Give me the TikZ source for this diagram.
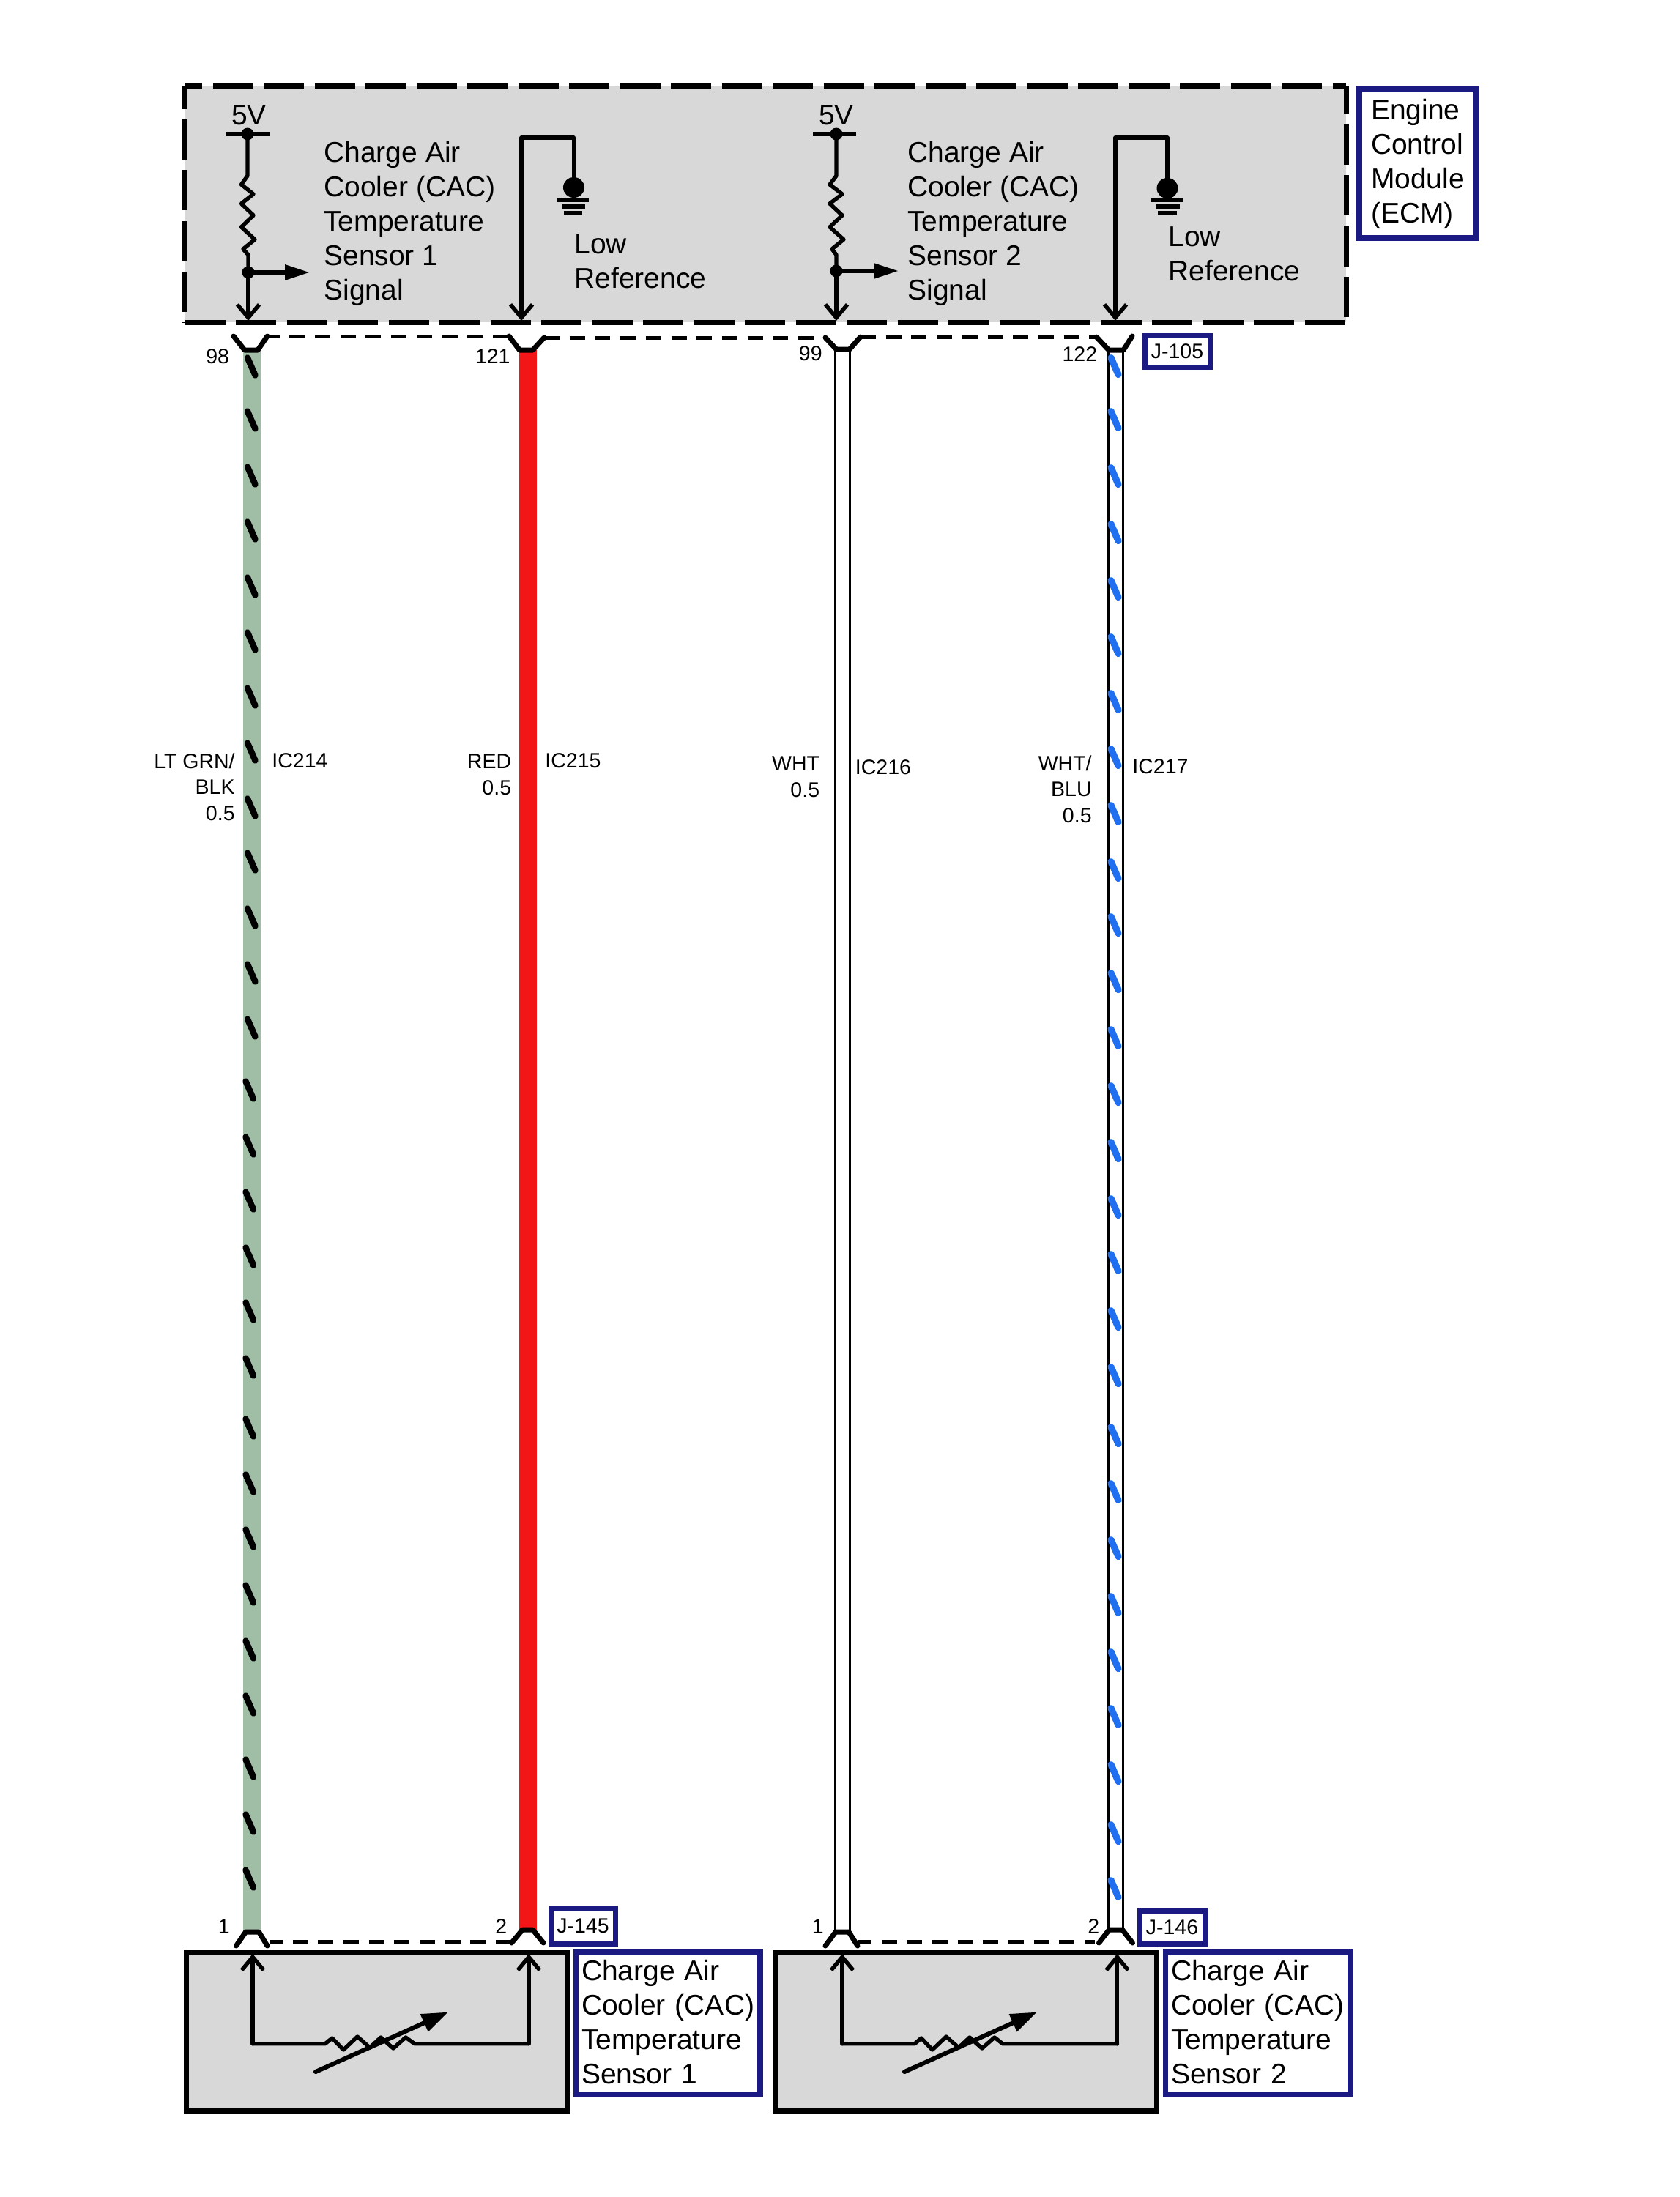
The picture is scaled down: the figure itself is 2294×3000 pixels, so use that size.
\documentclass[tikz,border=0pt]{standalone}
\usepackage{fontspec}
\setmainfont{Liberation Sans}
\usetikzlibrary{arrows.meta,shapes.geometric}
\definecolor{boxgray}{HTML}{D8D8D8}
\definecolor{wiregreen}{HTML}{A0BEA6}
\definecolor{wirered}{HTML}{F21616}
\definecolor{navy}{HTML}{1A1A82}
\definecolor{stripeblue}{HTML}{1F6FF0}
\tikzset{
  bigtxt/.style={font=\fontsize{19.5}{23.5}\selectfont,inner sep=0pt,align=left,anchor=base west},
  smalltxt/.style={font=\fontsize{14.25}{17.75}\selectfont,inner sep=0pt},
  signal/.style={line width=2.7pt,line join=round,line cap=round},
  barb/.style={signal,-{Straight Barb[length=9pt,width=15pt,line width=2.7pt]}},
  solidtip/.style={line width=3pt,-{Triangle[length=17pt,width=10pt]}},
  dirtip/.style={line width=3pt,line cap=round,-{Triangle[length=18pt,width=12.5pt]}},
  dot/.style={circle,fill=black,inner sep=0pt,minimum size=8.5pt},
  gnddot/.style={ellipse,fill=black,inner sep=0pt},
  gnd/.style={line width=2.7pt},
  pin/.style={line width=3.5pt,line join=round,line cap=round},
  shielddash/.style={line width=2.5pt,dash pattern=on 10.5pt off 6.85pt},
  ecmedge/.style={line width=3.6pt},
  sensorbox/.style={draw=black,fill=boxgray,line width=3.6pt,minimum width=260.5pt,minimum height=108.25pt,inner sep=0pt},
  namebox/.style={draw=navy,fill=white,line width=3.7pt,inner ysep=0pt,align=left,font=\fontsize{19.5}{23.5}\selectfont},
  jbox/.style={draw=navy,fill=white,line width=3.5pt,inner sep=0pt,font=\fontsize{14.25}{17.75}\selectfont},
  greenwire/.style={line width=12pt,wiregreen},
  redwire/.style={line width=12pt,wirered},
  whitewire/.style={line width=1.65pt,black,double=white,double distance=8.2pt},
  blackstripe/.style={line width=4.2pt,line cap=round,black},
  bluestripe/.style={line width=4.6pt,line cap=round,stripeblue},
}
\begin{document}
\begin{tikzpicture}[x=0.5pt,y=-0.5pt]
\useasboundingbox (0,0) rectangle (2294,3000);

% ECM body
\node[fill=boxgray,inner sep=0pt,minimum width=792.5pt,minimum height=161pt] (ecm) at (1045.5,279) {};
\draw[ecmedge,dash pattern=on 27.5pt off 7.25pt,dash phase=15.75pt] (ecm.north west) -- (ecm.north east);
\draw[ecmedge,dash pattern=on 27.5pt off 7.25pt] (ecm.south west) -- (ecm.south east);
\draw[ecmedge,dash pattern=on 27.5pt off 7.15pt,dash phase=12pt] (ecm.north west) -- (ecm.south west);
\draw[ecmedge,dash pattern=on 27.5pt off 7.15pt,dash phase=8.5pt] (ecm.north east) -- (ecm.south east);

% ECM name
\node[namebox,text width=64pt,inner xsep=8pt,minimum height=101.5pt] (ecmname) at (1936,223.5) {Engine\\Control\\Module\\(ECM)};

% Pins on the ECM connector
\coordinate (p98) at (343,478);   \coordinate (p98l) at (319,459);   \coordinate (p98r) at (365,459);
\coordinate (p121) at (718.5,478);\coordinate (p121l) at (695,459);  \coordinate (p121r) at (743,461);
\coordinate (p99) at (1151,477);  \coordinate (p99l) at (1127,461);  \coordinate (p99r) at (1175,460);
\coordinate (p122) at (1524,478); \coordinate (p122l) at (1497,460); \coordinate (p122r) at (1546,459);

% Pins on the sensor connectors
\coordinate (q1a) at (344.5,2638); \coordinate (q1al) at (322.5,2657); \coordinate (q1ar) at (365,2657); \coordinate (q1as) at (368,2651);
\coordinate (q1b) at (720.5,2635); \coordinate (q1bl) at (698.5,2653); \coordinate (q1br) at (742,2653); \coordinate (q1bs) at (698.5,2651);
\coordinate (q2a) at (1150,2638);  \coordinate (q2al) at (1127,2657);  \coordinate (q2ar) at (1171,2657); \coordinate (q2as) at (1172,2651);
\coordinate (q2b) at (1523.5,2635);\coordinate (q2bl) at (1500.5,2653);\coordinate (q2br) at (1546.5,2653);\coordinate (q2bs) at (1495,2651);

% Wires
\coordinate (w1t) at (344,478);    \coordinate (w1b) at (344,2638);
\coordinate (w2t) at (720.5,478);  \coordinate (w2b) at (720.5,2635);
\coordinate (w3t) at (1150.5,477); \coordinate (w3b) at (1150.5,2638);
\coordinate (w4t) at (1523.5,478); \coordinate (w4b) at (1523.5,2635);
\draw[greenwire] (w1t) -- (w1b);
\draw[redwire] (w2t) -- (w2b);
\draw[whitewire] (w3t) -- (w3b);
\draw[whitewire] (w4t) -- (w4b);

% Stripes
\foreach \y in {484,557,633,708,784,859,935,1010,1086,1160,1236,1312,1387}
  \draw[blackstripe] (338,\y+4.5) -- (348.5,\y+28.5);
\foreach \y in {1472,1548,1623,1699,1774,1850,1933,2009,2084,2160,2236,2311,2398,2473,2549}
  \draw[blackstripe] (335.5,\y+4.5) -- (346,\y+28.5);
\foreach \y in {484,557,634,711,788,865,942,1018,1095,1172,1247,1324,1401,1478,1555,1632,1708,1785,1862,1944,2021,2098,2175,2251,2328,2405,2487,2563}
  \draw[bluestripe] (1517,\y+4.5) -- (1527,\y+27.5);

% Connector symbols
\draw[pin] (p98l) -- ([xshift=-4.5pt]p98) -- ([xshift=4.5pt]p98) -- (p98r);
\draw[pin] (p121l) -- ([xshift=-4.5pt]p121) -- ([xshift=4.5pt]p121) -- (p121r);
\draw[pin] (p99l) -- ([xshift=-4.5pt]p99) -- ([xshift=4.5pt]p99) -- (p99r);
\draw[pin] (p122l) -- ([xshift=-5pt]p122) -- ([xshift=5pt]p122) -- (p122r);
\draw[pin] (q1al) -- ([xshift=-4.5pt]q1a) -- ([xshift=4.5pt]q1a) -- (q1ar);
\draw[pin] (q1bl) -- ([xshift=-3.5pt]q1b) -- ([xshift=3.5pt]q1b) -- (q1br);
\draw[pin] (q2al) -- ([xshift=-4.5pt]q2a) -- ([xshift=4.5pt]q2a) -- (q2ar);
\draw[pin] (q2bl) -- ([xshift=-4.5pt]q2b) -- ([xshift=4.5pt]q2b) -- (q2br);

% Dashed connector shells
\draw[shielddash,dash phase=2.2pt] (p98r) -- (p121l);
\draw[shielddash] (p121r) -- (p99l);
\draw[shielddash] (p99r) -- (p122l);
\draw[shielddash,dash phase=1.6pt] (q1as) -- (q1bs);
\draw[shielddash,dash phase=1.6pt] (q2as) -- (q2bs);

% ECM internal circuit 1
\node[bigtxt,anchor=base] (v1) at (340,170) {5V};
\coordinate (rail1l) at (309,183); \coordinate (rail1r) at (368,183);
\node[dot] (d1a) at (338,183) {};
\node[dot] (d1b) at (339,372) {};
\coordinate (e98) at (339,438);
\coordinate (s1tip) at (423,372);
\draw[line width=2.7pt] (rail1l) -- (rail1r);
\draw[signal] (d1a.center) -- (338,240) -- (329.5,252) -- (346,265) -- (329.5,278) -- (346,294) -- (329.5,310) -- (348,327) -- (332,340) -- (339,348) -- (d1b.center);
\draw[barb] (d1b.center) -- (e98);
\draw[solidtip] (d1b.center) -- (s1tip);
\node[bigtxt] (t1) at (442,409) {Charge Air\\Cooler (CAC)\\Temperature\\Sensor 1\\Signal};
\coordinate (e121) at (712,438);
\coordinate (g1top) at (712,188);
\node[gnddot,minimum width=14.5pt,minimum height=14pt] (g1) at (783.5,256) {};
\draw[barb] (g1.center) -- (783.5,188) -- (g1top) -- (e121);
\draw[gnd] (761,273) -- (804,273);
\draw[gnd] (768,282) -- (799,282);
\draw[gnd] (770,291) -- (795,291);
\node[bigtxt] (t2) at (784,393) {Low\\Reference};

% ECM internal circuit 2
\node[bigtxt,anchor=base] (v2) at (1142,170) {5V};
\coordinate (rail2l) at (1110,183); \coordinate (rail2r) at (1169,183);
\node[dot] (d2a) at (1142,183) {};
\node[dot] (d2b) at (1142,370) {};
\coordinate (e99) at (1142,438);
\coordinate (s2tip) at (1227,370);
\draw[line width=2.7pt] (rail2l) -- (rail2r);
\draw[signal] (d2a.center) -- (1142,240) -- (1133,252) -- (1150,265) -- (1133,278) -- (1150,294) -- (1133,310) -- (1152,327) -- (1136,340) -- (1142,348) -- (d2b.center);
\draw[barb] (d2b.center) -- (e99);
\draw[solidtip] (d2b.center) -- (s2tip);
\node[bigtxt] (t3) at (1239,409) {Charge Air\\Cooler (CAC)\\Temperature\\Sensor 2\\Signal};
\coordinate (e122) at (1523,438);
\coordinate (g2top) at (1523,188);
\node[gnddot,minimum width=14.5pt,minimum height=14pt] (g2) at (1594,257) {};
\draw[barb] (g2.center) -- (1594,188) -- (g2top) -- (e122);
\draw[gnd] (1572,273) -- (1615,273);
\draw[gnd] (1579,282) -- (1611,282);
\draw[gnd] (1581,291) -- (1607,291);
\node[bigtxt] (t4) at (1595,383) {Low\\Reference};

% Pin numbers
\node[smalltxt,anchor=base east] (n98) at (313.5,496) {98};
\node[smalltxt,anchor=base east] (n121) at (697,496) {121};
\node[smalltxt,anchor=base east] (n99) at (1123,492) {99};
\node[smalltxt,anchor=base east] (n122) at (1498.5,493) {122};
\node[smalltxt,anchor=base east] (n1a) at (314,2640) {1};
\node[smalltxt,anchor=base east] (n2a) at (692.5,2640) {2};
\node[smalltxt,anchor=base east] (n1b) at (1125,2640) {1};
\node[smalltxt,anchor=base east] (n2b) at (1501.5,2640) {2};

% Wire labels
\node[smalltxt,align=right,anchor=base east] (l1) at (321,1120) {LT GRN/\\BLK\\0.5};
\node[smalltxt,anchor=base west] (c1) at (371,1048) {IC214};
\node[smalltxt,align=right,anchor=base east] (l2) at (698.5,1085) {RED\\0.5};
\node[smalltxt,anchor=base west] (c2) at (744,1048) {IC215};
\node[smalltxt,align=right,anchor=base east] (l3) at (1119.5,1088) {WHT\\0.5};
\node[smalltxt,anchor=base west] (c3) at (1167.5,1057) {IC216};
\node[smalltxt,align=right,anchor=base east] (l4) at (1491,1123) {WHT/\\BLU\\0.5};
\node[smalltxt,anchor=base west] (c4) at (1546,1056) {IC217};

% Connector ids
\node[jbox,minimum width=44.5pt,minimum height=21.5pt] (j105) at (1607.5,480) {J-105};
\node[jbox,minimum width=44pt,minimum height=24pt] (j145) at (796,2630) {J-145};
\node[jbox,minimum width=44.5pt,minimum height=22.5pt] (j146) at (1600.5,2631.5) {J-146};

% Sensor 1
\node[sensorbox] (s1) at (515,2774.75) {};
\coordinate (s1e1) at (345,2668); \coordinate (s1e2) at (722,2668);
\draw[signal] (345,2790.7) -- (444,2790.7) -- (453.5,2783) -- (469,2799) -- (488,2781) -- (505,2796) -- (520,2782) -- (537,2797) -- (554,2782) -- (566,2790.7) -- (722,2790.7);
\draw[barb] (345,2790.7) -- (s1e1);
\draw[barb] (722,2790.7) -- (s1e2);
\coordinate (a1s) at (431,2829); \coordinate (a1e) at (612,2747.5);
\draw[dirtip] (a1s) -- (a1e);
\node[namebox,text width=118.25pt,inner xsep=3.75pt,minimum height=96.75pt] (s1name) at (912.25,2762.75) {Charge Air\\Cooler (CAC)\\Temperature\\Sensor 1\rule[-2pt]{0pt}{2pt}};

% Sensor 2
\node[sensorbox] (s2) at (1318.75,2774.75) {};
\coordinate (s2e1) at (1150,2668); \coordinate (s2e2) at (1525.5,2668);
\draw[signal] (1150,2790.7) -- (1249,2790.7) -- (1258,2783) -- (1273,2799) -- (1292,2781) -- (1309,2796) -- (1324,2782) -- (1341,2797) -- (1358,2782) -- (1369,2790.7) -- (1525.5,2790.7);
\draw[barb] (1150,2790.7) -- (s2e1);
\draw[barb] (1525.5,2790.7) -- (s2e2);
\coordinate (a2s) at (1235,2829); \coordinate (a2e) at (1416,2747.5);
\draw[dirtip] (a2s) -- (a2e);
\node[namebox,text width=118.5pt,inner xsep=3.75pt,minimum height=96.75pt] (s2name) at (1717.5,2762.75) {Charge Air\\Cooler (CAC)\\Temperature\\Sensor 2\rule[-2pt]{0pt}{2pt}};
\end{tikzpicture}
\end{document}
